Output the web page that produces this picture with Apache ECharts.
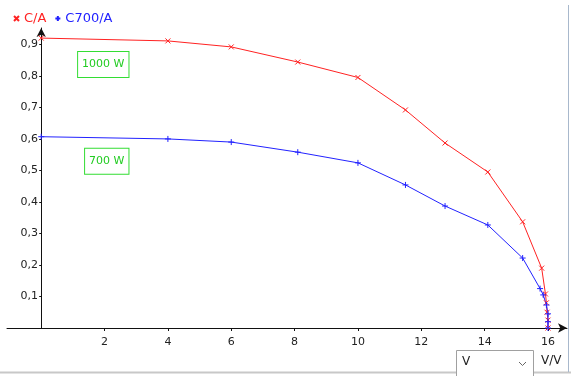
<!DOCTYPE html>
<html>
<head>
<meta charset="utf-8">
<script src="https://cdn.jsdelivr.net/npm/echarts@6/dist/echarts.min.js"></script>
<style>
  html, body { margin: 0; padding: 0; background: #fff; }
  #chart { width: 571px; height: 376px; }
</style>
</head>
<body>
<div id="chart"></div>
<script>
// 1000 W curve (C/A)
const xRed = [0, 4, 6, 8.1, 10, 11.5, 12.75, 14.1, 15.2, 15.8, 15.92, 15.95, 15.97, 16, 16];
const yRed = [0.92, 0.911, 0.892, 0.844, 0.795, 0.692, 0.587, 0.495, 0.337, 0.19, 0.108, 0.08, 0.05, 0.025, 0];
// 700 W curve (C700/A)
const xBlue = [0, 4, 6, 8.1, 10, 11.5, 12.75, 14.1, 15.2, 15.75, 15.85, 15.95, 16, 16, 16];
const yBlue = [0.607, 0.6, 0.59, 0.558, 0.524, 0.454, 0.387, 0.327, 0.222, 0.125, 0.105, 0.073, 0.045, 0.02, 0];

const xTicks = [2, 4, 6, 8, 10, 12, 14, 16];
const yTicks = [0.1, 0.2, 0.3, 0.4, 0.5, 0.6, 0.7, 0.8, 0.9];

const seriesNames = ['C/A', 'C700/A'];
const powerLabels = ['1000 W', '700 W'];
const powerLabelAt = [[1.96, 0.836], [2.07, 0.529]];

const RED = '#ff2222';
const BLUE = '#2222ff';
const GREEN = '#22cc22';
const FONT = 'DejaVu Sans';

const zip = (xs, ys) => xs.map((x, i) => [x, ys[i]]);

const noteMark = (i) => ({
  symbol: 'rect',
  symbolSize: 1,
  itemStyle: { color: 'transparent' },
  label: {
    show: true,
    position: 'inside',
    formatter: powerLabels[i],
    color: GREEN,
    fontFamily: FONT,
    fontSize: 11,
    backgroundColor: '#fff',
    borderColor: '#33dd33',
    borderWidth: 1,
    padding: [7, 4, 7, 4],
  },
  data: [{ coord: powerLabelAt[i] }],
});

const chart = echarts.init(document.getElementById('chart'), null, { renderer: 'canvas' });
chart.setOption({
  animation: false,
  textStyle: { fontFamily: FONT },
  grid: { left: 7, right: 4, top: 28, bottom: 48, containLabel: false, outerBoundsMode: 'none' },
  legend: {
    left: 8,
    top: 7,
    itemGap: 8,
    itemWidth: 5,
    itemHeight: 5,
    selectedMode: false,
    textStyle: { fontFamily: FONT, fontSize: 13 },
    data: [
      { name: seriesNames[0], icon: 'path://M0,0L10,10M10,0L0,10', textStyle: { color: RED } },
      { name: seriesNames[1], icon: 'path://M5,0L5,10M0,5L10,5', textStyle: { color: BLUE } },
    ],
  },
  xAxis: {
    type: 'value',
    min: -1.08,
    max: 16.6,
    axisLine: { onZero: true, symbol: ['none', 'arrow'], symbolSize: [7, 9], lineStyle: { color: '#111', width: 1 } },
    axisTick: { show: true, length: 3, customValues: xTicks, lineStyle: { color: '#111' } },
    axisLabel: { customValues: xTicks, color: '#222', fontSize: 11, margin: 9, fontFamily: FONT },
    splitLine: { show: false },
  },
  yAxis: {
    type: 'value',
    min: 0,
    max: 0.952,
    axisLine: { show: true, onZero: true, symbol: ['none', 'arrow'], symbolSize: [7, 9], lineStyle: { color: '#111', width: 1 } },
    axisTick: { show: true, length: 2, customValues: yTicks, lineStyle: { color: '#111' } },
    axisLabel: {
      customValues: yTicks,
      color: '#222',
      fontSize: 11,
      margin: -31,
      fontFamily: FONT,
      formatter: (v) => v.toFixed(1).replace('.', ','),
    },
    splitLine: { show: false },
  },
  series: [
    {
      name: seriesNames[0],
      type: 'line',
      data: zip(xRed, yRed),
      symbol: 'path://M0,0L10,10M10,0L0,10',
      symbolSize: 5,
      showSymbol: true,
      itemStyle: { color: RED, borderColor: RED, borderWidth: 1 },
      lineStyle: { color: RED, width: 1 },
      markPoint: noteMark(0),
    },
    {
      name: seriesNames[1],
      type: 'line',
      data: zip(xBlue, yBlue),
      symbol: 'path://M5,0L5,10M0,5L10,5',
      symbolSize: 6,
      showSymbol: true,
      itemStyle: { color: BLUE, borderColor: BLUE, borderWidth: 1 },
      lineStyle: { color: BLUE, width: 1 },
      markPoint: noteMark(1),
    },
  ],
  graphic: [
    { type: 'line', shape: { x1: 0, y1: 372.5, x2: 571, y2: 372.5 }, style: { stroke: '#c8c8c8', lineWidth: 2 } },
    { type: 'line', shape: { x1: 568.5, y1: 5, x2: 568.5, y2: 372 }, style: { stroke: '#a8b8cc', lineWidth: 1 } },
    { type: 'rect', shape: { x: 456.5, y: 350.5, width: 77, height: 30 }, style: { fill: '#fff', stroke: '#a0a0a0', lineWidth: 1 } },
    { type: 'text', x: 462, y: 356, style: { text: 'V', fill: '#222', font: '12px "DejaVu Sans"' } },
    { type: 'polyline', shape: { points: [[519, 362], [522.5, 365.5], [526, 362]] }, style: { stroke: '#666', lineWidth: 1, fill: null } },
    { type: 'text', x: 541, y: 355, style: { text: 'V/V', fill: '#222', font: '12px "DejaVu Sans"' } },
  ],
});
</script>
</body>
</html>
